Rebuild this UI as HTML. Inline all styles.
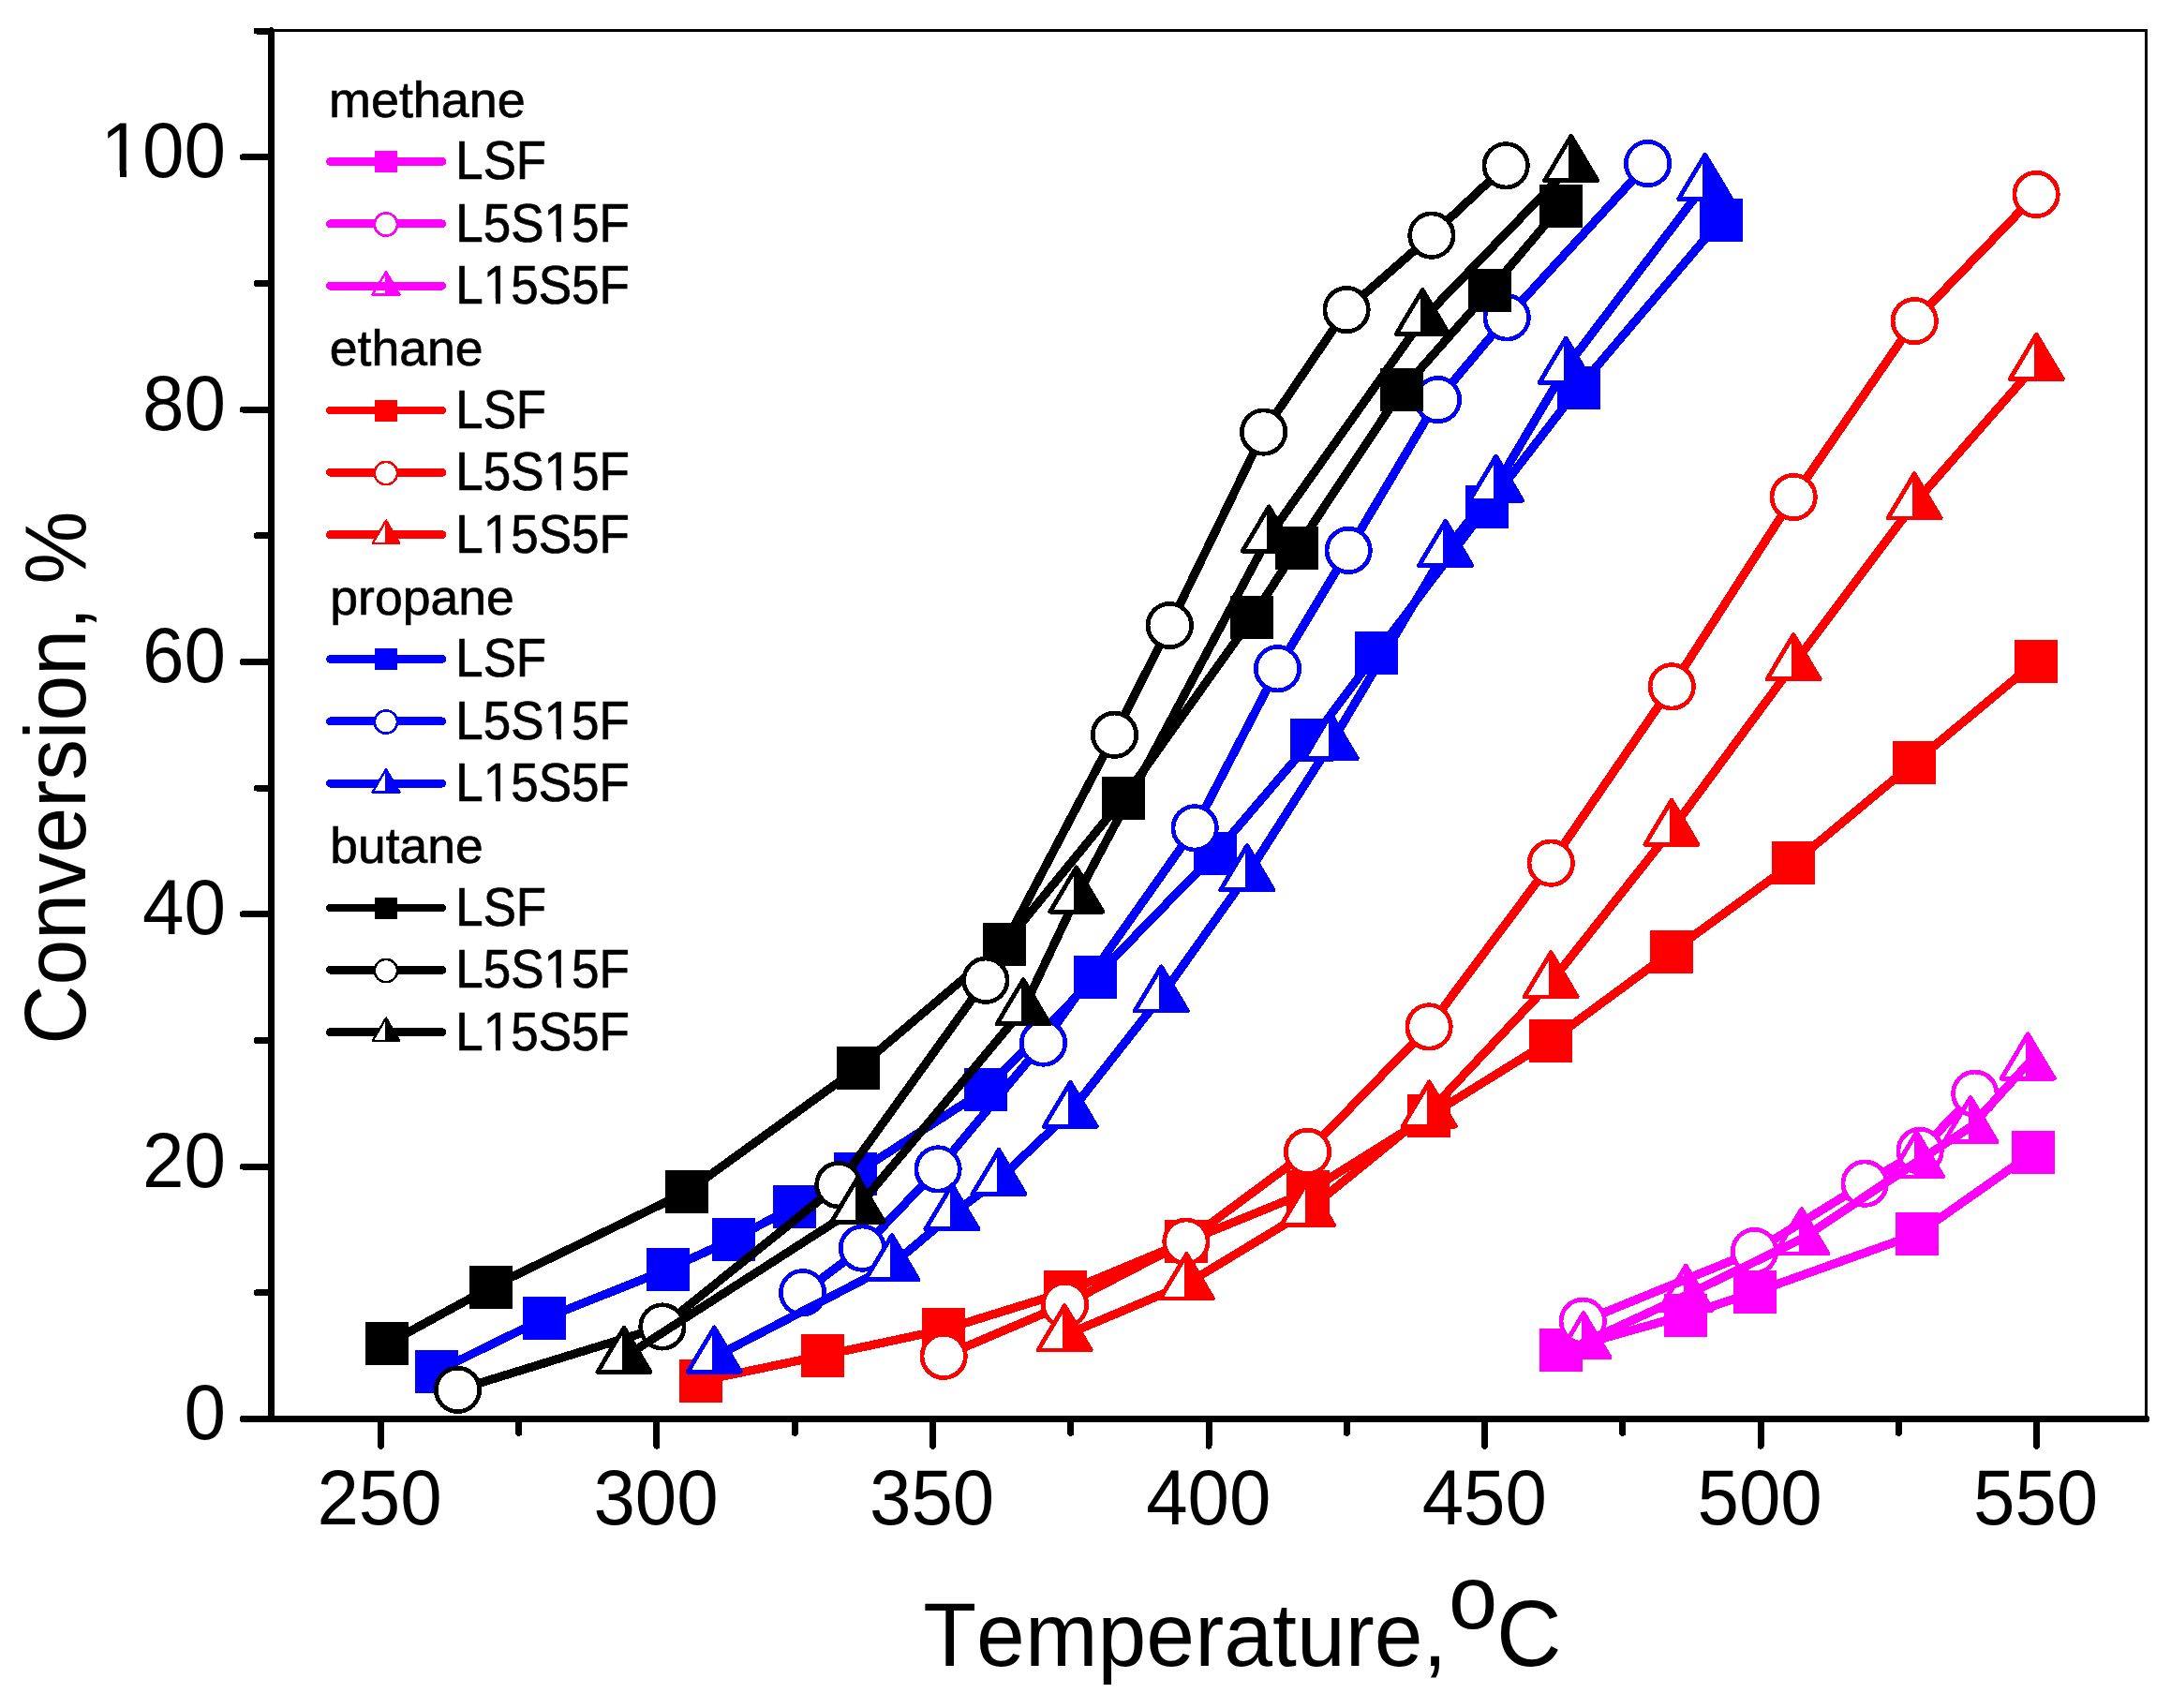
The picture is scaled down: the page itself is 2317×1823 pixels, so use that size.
<!DOCTYPE html>
<html lang="en"><head><meta charset="utf-8"><title>Conversion vs Temperature</title>
<style>html,body{margin:0;padding:0;background:#fff}svg{display:block}text{font-family:"Liberation Sans",sans-serif;fill:#000;font-kerning:none}</style></head>
<body>
<svg width="2317" height="1823" viewBox="0 0 2317 1823" shape-rendering="crispEdges">
<rect width="2317" height="1823" fill="#fff"/>
<g fill="none" stroke-linejoin="round" stroke-linecap="round">
<g><polyline points="1665.8,1441.2 1799,1403.6 1872.5,1379.3 2046.3,1317.1 2170.2,1230.1" stroke="#ff00ff" stroke-width="9.2"/><rect x="1642.8" y="1418.2" width="46" height="46" fill="#ff00ff"/><rect x="1776" y="1380.6" width="46" height="46" fill="#ff00ff"/><rect x="1849.5" y="1356.3" width="46" height="46" fill="#ff00ff"/><rect x="2023.3" y="1294.1" width="46" height="46" fill="#ff00ff"/><rect x="2147.2" y="1207.1" width="46" height="46" fill="#ff00ff"/></g>
<g><polyline points="1689.3,1410.3 1872.5,1335.6 1990.2,1263.2 2049.1,1228.4 2107.8,1167.3" stroke="#ff00ff" stroke-width="9.2"/><circle cx="1689.3" cy="1410.3" r="23.2" fill="#fff" stroke="#ff00ff" stroke-width="4.7"/><circle cx="1872.5" cy="1335.6" r="23.2" fill="#fff" stroke="#ff00ff" stroke-width="4.7"/><circle cx="1990.2" cy="1263.2" r="23.2" fill="#fff" stroke="#ff00ff" stroke-width="4.7"/><circle cx="2049.1" cy="1228.4" r="23.2" fill="#fff" stroke="#ff00ff" stroke-width="4.7"/><circle cx="2107.8" cy="1167.3" r="23.2" fill="#fff" stroke="#ff00ff" stroke-width="4.7"/></g>
<g><polyline points="1690,1433.2 1799.2,1382.7 1922.7,1322.3 2045.5,1240.3 2103,1203 2164.2,1135.5" stroke="#ff00ff" stroke-width="9.2"/><path d="M1690 1401.6L1661.9 1448.8L1718.1 1448.8Z" fill="none" stroke="#ff00ff" stroke-width="4.8" stroke-linejoin="round"/><path d="M1690 1401.6L1690 1448.8L1718.1 1448.8Z" fill="#ff00ff" stroke="#ff00ff" stroke-width="4.8" stroke-linejoin="round"/><path d="M1799.2 1351.1L1771.1 1398.3L1827.3 1398.3Z" fill="none" stroke="#ff00ff" stroke-width="4.8" stroke-linejoin="round"/><path d="M1799.2 1351.1L1799.2 1398.3L1827.3 1398.3Z" fill="#ff00ff" stroke="#ff00ff" stroke-width="4.8" stroke-linejoin="round"/><path d="M1922.7 1290.7L1894.6 1337.9L1950.8 1337.9Z" fill="none" stroke="#ff00ff" stroke-width="4.8" stroke-linejoin="round"/><path d="M1922.7 1290.7L1922.7 1337.9L1950.8 1337.9Z" fill="#ff00ff" stroke="#ff00ff" stroke-width="4.8" stroke-linejoin="round"/><path d="M2045.5 1208.7L2017.4 1255.9L2073.6 1255.9Z" fill="none" stroke="#ff00ff" stroke-width="4.8" stroke-linejoin="round"/><path d="M2045.5 1208.7L2045.5 1255.9L2073.6 1255.9Z" fill="#ff00ff" stroke="#ff00ff" stroke-width="4.8" stroke-linejoin="round"/><path d="M2103 1171.4L2074.9 1218.6L2131.1 1218.6Z" fill="none" stroke="#ff00ff" stroke-width="4.8" stroke-linejoin="round"/><path d="M2103 1171.4L2103 1218.6L2131.1 1218.6Z" fill="#ff00ff" stroke="#ff00ff" stroke-width="4.8" stroke-linejoin="round"/><path d="M2164.2 1103.9L2136.1 1151.1L2192.3 1151.1Z" fill="none" stroke="#ff00ff" stroke-width="4.8" stroke-linejoin="round"/><path d="M2164.2 1103.9L2164.2 1151.1L2192.3 1151.1Z" fill="#ff00ff" stroke="#ff00ff" stroke-width="4.8" stroke-linejoin="round"/></g>
<g><polyline points="748,1473.9 878.1,1446.8 1007.2,1419.2 1136.5,1379.1 1265.9,1325.2 1395.5,1272.2 1525.1,1191.2 1655.1,1110.5 1784.1,1015.6 1914,921.2 2043,814 2172.9,706" stroke="#ff0000" stroke-width="9.2"/><rect x="725" y="1450.9" width="46" height="46" fill="#ff0000"/><rect x="855.1" y="1423.8" width="46" height="46" fill="#ff0000"/><rect x="984.2" y="1396.2" width="46" height="46" fill="#ff0000"/><rect x="1113.5" y="1356.1" width="46" height="46" fill="#ff0000"/><rect x="1242.9" y="1302.2" width="46" height="46" fill="#ff0000"/><rect x="1372.5" y="1249.2" width="46" height="46" fill="#ff0000"/><rect x="1502.1" y="1168.2" width="46" height="46" fill="#ff0000"/><rect x="1632.1" y="1087.5" width="46" height="46" fill="#ff0000"/><rect x="1761.1" y="992.6" width="46" height="46" fill="#ff0000"/><rect x="1891" y="898.2" width="46" height="46" fill="#ff0000"/><rect x="2020" y="791" width="46" height="46" fill="#ff0000"/><rect x="2149.9" y="683" width="46" height="46" fill="#ff0000"/></g>
<g><polyline points="1007.2,1447.4 1136.5,1392.4 1265.9,1325.2 1395.5,1229.4 1525.1,1095.9 1655.3,921.2 1784.3,732.8 1914.2,530.5 2043.3,342.6 2173.1,207.5" stroke="#ff0000" stroke-width="9.2"/><circle cx="1007.2" cy="1447.4" r="23.2" fill="#fff" stroke="#ff0000" stroke-width="4.7"/><circle cx="1136.5" cy="1392.4" r="23.2" fill="#fff" stroke="#ff0000" stroke-width="4.7"/><circle cx="1265.9" cy="1325.2" r="23.2" fill="#fff" stroke="#ff0000" stroke-width="4.7"/><circle cx="1395.5" cy="1229.4" r="23.2" fill="#fff" stroke="#ff0000" stroke-width="4.7"/><circle cx="1525.1" cy="1095.9" r="23.2" fill="#fff" stroke="#ff0000" stroke-width="4.7"/><circle cx="1655.3" cy="921.2" r="23.2" fill="#fff" stroke="#ff0000" stroke-width="4.7"/><circle cx="1784.3" cy="732.8" r="23.2" fill="#fff" stroke="#ff0000" stroke-width="4.7"/><circle cx="1914.2" cy="530.5" r="23.2" fill="#fff" stroke="#ff0000" stroke-width="4.7"/><circle cx="2043.3" cy="342.6" r="23.2" fill="#fff" stroke="#ff0000" stroke-width="4.7"/><circle cx="2173.1" cy="207.5" r="23.2" fill="#fff" stroke="#ff0000" stroke-width="4.7"/></g>
<g><polyline points="1136.2,1425.3 1266.4,1370.3 1395.5,1292.1 1525.3,1186.5 1655.2,1048.3 1783.9,885.8 1914.1,709.2 2043.1,537.4 2173.3,389" stroke="#ff0000" stroke-width="9.2"/><path d="M1136.2 1393.7L1108.1 1440.9L1164.3 1440.9Z" fill="#fff" stroke="#ff0000" stroke-width="4.8" stroke-linejoin="round"/><path d="M1136.2 1393.7L1136.2 1440.9L1164.3 1440.9Z" fill="#ff0000" stroke="#ff0000" stroke-width="4.8" stroke-linejoin="round"/><path d="M1266.4 1338.7L1238.3 1385.9L1294.5 1385.9Z" fill="#fff" stroke="#ff0000" stroke-width="4.8" stroke-linejoin="round"/><path d="M1266.4 1338.7L1266.4 1385.9L1294.5 1385.9Z" fill="#ff0000" stroke="#ff0000" stroke-width="4.8" stroke-linejoin="round"/><path d="M1395.5 1260.5L1367.4 1307.7L1423.6 1307.7Z" fill="#fff" stroke="#ff0000" stroke-width="4.8" stroke-linejoin="round"/><path d="M1395.5 1260.5L1395.5 1307.7L1423.6 1307.7Z" fill="#ff0000" stroke="#ff0000" stroke-width="4.8" stroke-linejoin="round"/><path d="M1525.3 1154.9L1497.2 1202.1L1553.4 1202.1Z" fill="#fff" stroke="#ff0000" stroke-width="4.8" stroke-linejoin="round"/><path d="M1525.3 1154.9L1525.3 1202.1L1553.4 1202.1Z" fill="#ff0000" stroke="#ff0000" stroke-width="4.8" stroke-linejoin="round"/><path d="M1655.2 1016.7L1627.1 1063.9L1683.3 1063.9Z" fill="#fff" stroke="#ff0000" stroke-width="4.8" stroke-linejoin="round"/><path d="M1655.2 1016.7L1655.2 1063.9L1683.3 1063.9Z" fill="#ff0000" stroke="#ff0000" stroke-width="4.8" stroke-linejoin="round"/><path d="M1783.9 854.2L1755.8 901.4L1812 901.4Z" fill="#fff" stroke="#ff0000" stroke-width="4.8" stroke-linejoin="round"/><path d="M1783.9 854.2L1783.9 901.4L1812 901.4Z" fill="#ff0000" stroke="#ff0000" stroke-width="4.8" stroke-linejoin="round"/><path d="M1914.1 677.6L1886 724.8L1942.2 724.8Z" fill="#fff" stroke="#ff0000" stroke-width="4.8" stroke-linejoin="round"/><path d="M1914.1 677.6L1914.1 724.8L1942.2 724.8Z" fill="#ff0000" stroke="#ff0000" stroke-width="4.8" stroke-linejoin="round"/><path d="M2043.1 505.8L2015 553L2071.2 553Z" fill="#fff" stroke="#ff0000" stroke-width="4.8" stroke-linejoin="round"/><path d="M2043.1 505.8L2043.1 553L2071.2 553Z" fill="#ff0000" stroke="#ff0000" stroke-width="4.8" stroke-linejoin="round"/><path d="M2173.3 357.4L2145.2 404.6L2201.4 404.6Z" fill="#fff" stroke="#ff0000" stroke-width="4.8" stroke-linejoin="round"/><path d="M2173.3 357.4L2173.3 404.6L2201.4 404.6Z" fill="#ff0000" stroke="#ff0000" stroke-width="4.8" stroke-linejoin="round"/></g>
<g><polyline points="465.5,1463.9 580.9,1407.3 712.9,1354.7 782.8,1322.5 847.9,1288 912.7,1252.8 1052,1163 1169.1,1042.7 1297.3,910.6 1400.2,789.8 1469,697.3 1587,541 1684.9,413.8 1836.9,234.6" stroke="#0000ff" stroke-width="9.2"/><rect x="442.5" y="1440.9" width="46" height="46" fill="#0000ff"/><rect x="557.9" y="1384.3" width="46" height="46" fill="#0000ff"/><rect x="689.9" y="1331.7" width="46" height="46" fill="#0000ff"/><rect x="759.8" y="1299.5" width="46" height="46" fill="#0000ff"/><rect x="824.9" y="1265" width="46" height="46" fill="#0000ff"/><rect x="889.7" y="1229.8" width="46" height="46" fill="#0000ff"/><rect x="1029" y="1140" width="46" height="46" fill="#0000ff"/><rect x="1146.1" y="1019.7" width="46" height="46" fill="#0000ff"/><rect x="1274.3" y="887.6" width="46" height="46" fill="#0000ff"/><rect x="1377.2" y="766.8" width="46" height="46" fill="#0000ff"/><rect x="1446" y="674.3" width="46" height="46" fill="#0000ff"/><rect x="1564" y="518" width="46" height="46" fill="#0000ff"/><rect x="1661.9" y="390.8" width="46" height="46" fill="#0000ff"/><rect x="1813.9" y="211.6" width="46" height="46" fill="#0000ff"/></g>
<g><polyline points="856.6,1379.7 920.4,1332.2 1001.1,1247.9 1113.5,1113.1 1275.2,883.8 1363.5,713.7 1439.2,587.4 1534.5,426.6 1608.2,338.9 1758.6,174.6" stroke="#0000ff" stroke-width="9.2"/><circle cx="856.6" cy="1379.7" r="23.2" fill="#fff" stroke="#0000ff" stroke-width="4.7"/><circle cx="920.4" cy="1332.2" r="23.2" fill="#fff" stroke="#0000ff" stroke-width="4.7"/><circle cx="1001.1" cy="1247.9" r="23.2" fill="#fff" stroke="#0000ff" stroke-width="4.7"/><circle cx="1113.5" cy="1113.1" r="23.2" fill="#fff" stroke="#0000ff" stroke-width="4.7"/><circle cx="1275.2" cy="883.8" r="23.2" fill="#fff" stroke="#0000ff" stroke-width="4.7"/><circle cx="1363.5" cy="713.7" r="23.2" fill="#fff" stroke="#0000ff" stroke-width="4.7"/><circle cx="1439.2" cy="587.4" r="23.2" fill="#fff" stroke="#0000ff" stroke-width="4.7"/><circle cx="1534.5" cy="426.6" r="23.2" fill="#fff" stroke="#0000ff" stroke-width="4.7"/><circle cx="1608.2" cy="338.9" r="23.2" fill="#fff" stroke="#0000ff" stroke-width="4.7"/><circle cx="1758.6" cy="174.6" r="23.2" fill="#fff" stroke="#0000ff" stroke-width="4.7"/></g>
<g><polyline points="762.3,1448.5 951.9,1350.1 1016,1296.2 1066,1258.9 1142.3,1186.8 1239.3,1063.4 1330.9,934.1 1420.3,793.9 1542.7,587.8 1596.6,518.6 1671.2,392.7 1819.7,196.8" stroke="#0000ff" stroke-width="9.2"/><path d="M762.3 1416.9L734.2 1464.1L790.4 1464.1Z" fill="#fff" stroke="#0000ff" stroke-width="4.8" stroke-linejoin="round"/><path d="M762.3 1416.9L762.3 1464.1L790.4 1464.1Z" fill="#0000ff" stroke="#0000ff" stroke-width="4.8" stroke-linejoin="round"/><path d="M951.9 1318.5L923.8 1365.7L980 1365.7Z" fill="#fff" stroke="#0000ff" stroke-width="4.8" stroke-linejoin="round"/><path d="M951.9 1318.5L951.9 1365.7L980 1365.7Z" fill="#0000ff" stroke="#0000ff" stroke-width="4.8" stroke-linejoin="round"/><path d="M1016 1264.6L987.9 1311.8L1044.1 1311.8Z" fill="#fff" stroke="#0000ff" stroke-width="4.8" stroke-linejoin="round"/><path d="M1016 1264.6L1016 1311.8L1044.1 1311.8Z" fill="#0000ff" stroke="#0000ff" stroke-width="4.8" stroke-linejoin="round"/><path d="M1066 1227.3L1037.9 1274.5L1094.1 1274.5Z" fill="#fff" stroke="#0000ff" stroke-width="4.8" stroke-linejoin="round"/><path d="M1066 1227.3L1066 1274.5L1094.1 1274.5Z" fill="#0000ff" stroke="#0000ff" stroke-width="4.8" stroke-linejoin="round"/><path d="M1142.3 1155.2L1114.2 1202.4L1170.4 1202.4Z" fill="#fff" stroke="#0000ff" stroke-width="4.8" stroke-linejoin="round"/><path d="M1142.3 1155.2L1142.3 1202.4L1170.4 1202.4Z" fill="#0000ff" stroke="#0000ff" stroke-width="4.8" stroke-linejoin="round"/><path d="M1239.3 1031.8L1211.2 1079L1267.4 1079Z" fill="#fff" stroke="#0000ff" stroke-width="4.8" stroke-linejoin="round"/><path d="M1239.3 1031.8L1239.3 1079L1267.4 1079Z" fill="#0000ff" stroke="#0000ff" stroke-width="4.8" stroke-linejoin="round"/><path d="M1330.9 902.5L1302.8 949.7L1359 949.7Z" fill="#fff" stroke="#0000ff" stroke-width="4.8" stroke-linejoin="round"/><path d="M1330.9 902.5L1330.9 949.7L1359 949.7Z" fill="#0000ff" stroke="#0000ff" stroke-width="4.8" stroke-linejoin="round"/><path d="M1420.3 762.3L1392.2 809.5L1448.4 809.5Z" fill="#fff" stroke="#0000ff" stroke-width="4.8" stroke-linejoin="round"/><path d="M1420.3 762.3L1420.3 809.5L1448.4 809.5Z" fill="#0000ff" stroke="#0000ff" stroke-width="4.8" stroke-linejoin="round"/><path d="M1542.7 556.2L1514.6 603.4L1570.8 603.4Z" fill="#fff" stroke="#0000ff" stroke-width="4.8" stroke-linejoin="round"/><path d="M1542.7 556.2L1542.7 603.4L1570.8 603.4Z" fill="#0000ff" stroke="#0000ff" stroke-width="4.8" stroke-linejoin="round"/><path d="M1596.6 487L1568.5 534.2L1624.7 534.2Z" fill="#fff" stroke="#0000ff" stroke-width="4.8" stroke-linejoin="round"/><path d="M1596.6 487L1596.6 534.2L1624.7 534.2Z" fill="#0000ff" stroke="#0000ff" stroke-width="4.8" stroke-linejoin="round"/><path d="M1671.2 361.1L1643.1 408.3L1699.3 408.3Z" fill="#fff" stroke="#0000ff" stroke-width="4.8" stroke-linejoin="round"/><path d="M1671.2 361.1L1671.2 408.3L1699.3 408.3Z" fill="#0000ff" stroke="#0000ff" stroke-width="4.8" stroke-linejoin="round"/><path d="M1819.7 165.2L1791.6 212.4L1847.8 212.4Z" fill="#fff" stroke="#0000ff" stroke-width="4.8" stroke-linejoin="round"/><path d="M1819.7 165.2L1819.7 212.4L1847.8 212.4Z" fill="#0000ff" stroke="#0000ff" stroke-width="4.8" stroke-linejoin="round"/></g>
<g><polyline points="413,1434.4 523.8,1373.9 732.9,1272.1 916,1139.8 1072.1,1007.6 1199.2,852 1336.4,659.3 1384,585.2 1496,416.4 1590,310 1666,219.7" stroke="#000000" stroke-width="9.2"/><rect x="390" y="1411.4" width="46" height="46" fill="#000000"/><rect x="500.8" y="1350.9" width="46" height="46" fill="#000000"/><rect x="709.9" y="1249.1" width="46" height="46" fill="#000000"/><rect x="893" y="1116.8" width="46" height="46" fill="#000000"/><rect x="1049.1" y="984.6" width="46" height="46" fill="#000000"/><rect x="1176.2" y="829" width="46" height="46" fill="#000000"/><rect x="1313.4" y="636.3" width="46" height="46" fill="#000000"/><rect x="1361" y="562.2" width="46" height="46" fill="#000000"/><rect x="1473" y="393.4" width="46" height="46" fill="#000000"/><rect x="1567" y="287" width="46" height="46" fill="#000000"/><rect x="1643" y="196.7" width="46" height="46" fill="#000000"/></g>
<g><polyline points="488.5,1483.4 706.9,1416 894.8,1264.7 1051.9,1046.3 1189.5,784.3 1248.3,667.6 1348.6,461.1 1437.1,330.6 1527.9,251.2 1607.2,176.8" stroke="#000000" stroke-width="9.2"/><circle cx="488.5" cy="1483.4" r="23.2" fill="#fff" stroke="#000000" stroke-width="4.7"/><circle cx="706.9" cy="1416" r="23.2" fill="#fff" stroke="#000000" stroke-width="4.7"/><circle cx="894.8" cy="1264.7" r="23.2" fill="#fff" stroke="#000000" stroke-width="4.7"/><circle cx="1051.9" cy="1046.3" r="23.2" fill="#fff" stroke="#000000" stroke-width="4.7"/><circle cx="1189.5" cy="784.3" r="23.2" fill="#fff" stroke="#000000" stroke-width="4.7"/><circle cx="1248.3" cy="667.6" r="23.2" fill="#fff" stroke="#000000" stroke-width="4.7"/><circle cx="1348.6" cy="461.1" r="23.2" fill="#fff" stroke="#000000" stroke-width="4.7"/><circle cx="1437.1" cy="330.6" r="23.2" fill="#fff" stroke="#000000" stroke-width="4.7"/><circle cx="1527.9" cy="251.2" r="23.2" fill="#fff" stroke="#000000" stroke-width="4.7"/><circle cx="1607.2" cy="176.8" r="23.2" fill="#fff" stroke="#000000" stroke-width="4.7"/></g>
<g><polyline points="666,1448.7 915.5,1288.6 1092.1,1077.2 1148.8,957.5 1354.2,572.5 1518.2,341 1676.7,176.9" stroke="#000000" stroke-width="9.2"/><path d="M666 1417.1L637.9 1464.3L694.1 1464.3Z" fill="#fff" stroke="#000000" stroke-width="4.8" stroke-linejoin="round"/><path d="M666 1417.1L666 1464.3L694.1 1464.3Z" fill="#000000" stroke="#000000" stroke-width="4.8" stroke-linejoin="round"/><path d="M915.5 1257L887.4 1304.2L943.6 1304.2Z" fill="#fff" stroke="#000000" stroke-width="4.8" stroke-linejoin="round"/><path d="M915.5 1257L915.5 1304.2L943.6 1304.2Z" fill="#000000" stroke="#000000" stroke-width="4.8" stroke-linejoin="round"/><path d="M1092.1 1045.6L1064 1092.8L1120.2 1092.8Z" fill="#fff" stroke="#000000" stroke-width="4.8" stroke-linejoin="round"/><path d="M1092.1 1045.6L1092.1 1092.8L1120.2 1092.8Z" fill="#000000" stroke="#000000" stroke-width="4.8" stroke-linejoin="round"/><path d="M1148.8 925.9L1120.7 973.1L1176.9 973.1Z" fill="#fff" stroke="#000000" stroke-width="4.8" stroke-linejoin="round"/><path d="M1148.8 925.9L1148.8 973.1L1176.9 973.1Z" fill="#000000" stroke="#000000" stroke-width="4.8" stroke-linejoin="round"/><path d="M1354.2 540.9L1326.1 588.1L1382.3 588.1Z" fill="#fff" stroke="#000000" stroke-width="4.8" stroke-linejoin="round"/><path d="M1354.2 540.9L1354.2 588.1L1382.3 588.1Z" fill="#000000" stroke="#000000" stroke-width="4.8" stroke-linejoin="round"/><path d="M1518.2 309.4L1490.1 356.6L1546.3 356.6Z" fill="#fff" stroke="#000000" stroke-width="4.8" stroke-linejoin="round"/><path d="M1518.2 309.4L1518.2 356.6L1546.3 356.6Z" fill="#000000" stroke="#000000" stroke-width="4.8" stroke-linejoin="round"/><path d="M1676.7 145.3L1648.6 192.5L1704.8 192.5Z" fill="#fff" stroke="#000000" stroke-width="4.8" stroke-linejoin="round"/><path d="M1676.7 145.3L1676.7 192.5L1704.8 192.5Z" fill="#000000" stroke="#000000" stroke-width="4.8" stroke-linejoin="round"/></g>
</g>
<g stroke="#000" fill="none" stroke-linecap="round">
<path d="M289.5 32.6H2290.7V1514.5" stroke-width="3.2" stroke-linecap="butt" stroke-linejoin="miter"/>
<path d="M289.5 32.6V1514.5H2290.7" stroke-width="7" stroke-linejoin="miter"/>
<path d="M259.2 1514.5H289.5M274.2 1379.8H289.5M259.2 1245.1H289.5M274.2 1110.5H289.5M259.2 975.8H289.5M274.2 841.1H289.5M259.2 706.4H289.5M274.2 571.7H289.5M259.2 437.1H289.5M274.2 302.4H289.5M259.2 167.7H289.5M274.2 33H289.5M406.4 1514.5V1543.2M553.7 1514.5V1529.3M700.9 1514.5V1543.2M848.2 1514.5V1529.3M995.5 1514.5V1543.2M1142.7 1514.5V1529.3M1290 1514.5V1543.2M1437.3 1514.5V1529.3M1584.5 1514.5V1543.2M1731.8 1514.5V1529.3M1879.1 1514.5V1543.2M2026.3 1514.5V1529.3M2173.6 1514.5V1543.2" stroke-width="7"/>
</g>
<g>
<g transform="translate(196.43 1536.10) scale(1.0000 1.0400)"><text font-size="80">0</text></g>
<g transform="translate(151.94 1266.74) scale(1.0000 1.0400)"><text font-size="80">20</text></g>
<g transform="translate(151.94 997.38) scale(1.0000 1.0400)"><text font-size="80">40</text></g>
<g transform="translate(151.94 728.02) scale(1.0000 1.0400)"><text font-size="80">60</text></g>
<g transform="translate(151.94 458.66) scale(1.0000 1.0400)"><text font-size="80">80</text></g>
<g transform="translate(107.45 189.30) scale(1.0000 1.0400)"><text font-size="80">100</text><path d="M4.90 -7.18H20.12V1.2H4.90ZM27.18 -7.18H41.78V1.2H27.18Z" fill="#fff"/></g>
<g transform="translate(338.45 1626.80) scale(0.9980 1.0400)"><text font-size="80">250</text></g>
<g transform="translate(633.47 1626.80) scale(0.9980 1.0400)"><text font-size="80">300</text></g>
<g transform="translate(928.00 1626.80) scale(0.9980 1.0400)"><text font-size="80">350</text></g>
<g transform="translate(1223.14 1626.80) scale(0.9980 1.0400)"><text font-size="80">400</text></g>
<g transform="translate(1517.68 1626.80) scale(0.9980 1.0400)"><text font-size="80">450</text></g>
<g transform="translate(1811.53 1626.80) scale(0.9980 1.0400)"><text font-size="80">500</text></g>
<g transform="translate(2106.07 1626.80) scale(0.9980 1.0400)"><text font-size="80">550</text></g>
</g>
<g transform="translate(91.20 1114.64) rotate(-90) scale(0.9942 1.0500)"><text font-size="88">Conversion, %</text></g>
<g transform="translate(985.21 1778.20) scale(0.9705 1.0100)"><text font-size="96">Temperature,</text></g>
<g transform="translate(1545.96 1738.30) scale(0.9773 1.0000)"><text font-size="96">o</text></g>
<g transform="translate(1597.11 1778.20) scale(1.0033 1.0370)"><text font-size="96">C</text></g>
<g font-size="54.3">
<g transform="translate(351.12 124.90) scale(0.9917 1.0000)"><text font-size="54.3" stroke="#000" stroke-width="0.7">methane</text></g>
<line x1="352.5" y1="172.4" x2="471.8" y2="172.4" stroke="#ff00ff" stroke-width="8.8" stroke-linecap="round"/><rect x="400" y="161" width="24.1" height="23.4" fill="#ff00ff"/><g transform="translate(486.37 191.28) scale(0.9714 1.0400)"><text font-size="54.3" stroke="#000" stroke-width="0.7">LSF</text></g>
<line x1="352.5" y1="238.8" x2="471.8" y2="238.8" stroke="#ff00ff" stroke-width="8.8" stroke-linecap="round"/><circle cx="411.9" cy="239.6" r="12.1" fill="#fff" stroke="#ff00ff" stroke-width="2.6"/><g transform="translate(486.35 257.66) scale(0.9757 1.0400)"><text font-size="54.3" stroke="#000" stroke-width="0.7">L5S15F</text><path d="M99.55 -5.26H109.92V1.2H99.55ZM115.42 -5.26H125.36V1.2H115.42Z" fill="#fff"/></g>
<line x1="352.5" y1="305.1" x2="471.8" y2="305.1" stroke="#ff00ff" stroke-width="8.8" stroke-linecap="round"/><path d="M412 290L397.6 314.4L426.4 314.4Z" fill="none" stroke="#ff00ff" stroke-width="2.4" stroke-linejoin="round"/><path d="M412 290L412 314.4L426.4 314.4Z" fill="#ff00ff" stroke="#ff00ff" stroke-width="2.4" stroke-linejoin="round"/><g transform="translate(486.35 324.04) scale(0.9757 1.0400)"><text font-size="54.3" stroke="#000" stroke-width="0.7">L15S5F</text><path d="M33.14 -5.26H43.51V1.2H33.14ZM49.00 -5.26H58.95V1.2H49.00Z" fill="#fff"/></g>
<g transform="translate(351.82 390.42) scale(0.9866 1.0000)"><text font-size="54.3" stroke="#000" stroke-width="0.7">ethane</text></g>
<line x1="352.5" y1="437.9" x2="471.8" y2="437.9" stroke="#ff0000" stroke-width="8.8" stroke-linecap="round"/><rect x="400" y="426.5" width="24.1" height="23.4" fill="#ff0000"/><g transform="translate(486.37 456.80) scale(0.9714 1.0400)"><text font-size="54.3" stroke="#000" stroke-width="0.7">LSF</text></g>
<line x1="352.5" y1="504.3" x2="471.8" y2="504.3" stroke="#ff0000" stroke-width="8.8" stroke-linecap="round"/><circle cx="411.9" cy="505.1" r="12.1" fill="#fff" stroke="#ff0000" stroke-width="2.6"/><g transform="translate(486.35 523.18) scale(0.9757 1.0400)"><text font-size="54.3" stroke="#000" stroke-width="0.7">L5S15F</text><path d="M99.55 -5.26H109.92V1.2H99.55ZM115.42 -5.26H125.36V1.2H115.42Z" fill="#fff"/></g>
<line x1="352.5" y1="570.7" x2="471.8" y2="570.7" stroke="#ff0000" stroke-width="8.8" stroke-linecap="round"/><path d="M412 555.6L397.6 580L426.4 580Z" fill="#fff" stroke="#ff0000" stroke-width="2.4" stroke-linejoin="round"/><path d="M412 555.6L412 580L426.4 580Z" fill="#ff0000" stroke="#ff0000" stroke-width="2.4" stroke-linejoin="round"/><g transform="translate(486.35 589.56) scale(0.9757 1.0400)"><text font-size="54.3" stroke="#000" stroke-width="0.7">L15S5F</text><path d="M33.14 -5.26H43.51V1.2H33.14ZM49.00 -5.26H58.95V1.2H49.00Z" fill="#fff"/></g>
<g transform="translate(352.35 655.94) scale(0.9857 1.0000)"><text font-size="54.3" stroke="#000" stroke-width="0.7">propane</text></g>
<line x1="352.5" y1="703.4" x2="471.8" y2="703.4" stroke="#0000ff" stroke-width="8.8" stroke-linecap="round"/><rect x="400" y="692" width="24.1" height="23.4" fill="#0000ff"/><g transform="translate(486.37 722.32) scale(0.9714 1.0400)"><text font-size="54.3" stroke="#000" stroke-width="0.7">LSF</text></g>
<line x1="352.5" y1="769.8" x2="471.8" y2="769.8" stroke="#0000ff" stroke-width="8.8" stroke-linecap="round"/><circle cx="411.9" cy="770.6" r="12.1" fill="#fff" stroke="#0000ff" stroke-width="2.6"/><g transform="translate(486.35 788.70) scale(0.9757 1.0400)"><text font-size="54.3" stroke="#000" stroke-width="0.7">L5S15F</text><path d="M99.55 -5.26H109.92V1.2H99.55ZM115.42 -5.26H125.36V1.2H115.42Z" fill="#fff"/></g>
<line x1="352.5" y1="836.2" x2="471.8" y2="836.2" stroke="#0000ff" stroke-width="8.8" stroke-linecap="round"/><path d="M412 821.1L397.6 845.5L426.4 845.5Z" fill="#fff" stroke="#0000ff" stroke-width="2.4" stroke-linejoin="round"/><path d="M412 821.1L412 845.5L426.4 845.5Z" fill="#0000ff" stroke="#0000ff" stroke-width="2.4" stroke-linejoin="round"/><g transform="translate(486.35 855.08) scale(0.9757 1.0400)"><text font-size="54.3" stroke="#000" stroke-width="0.7">L15S5F</text><path d="M33.14 -5.26H43.51V1.2H33.14ZM49.00 -5.26H58.95V1.2H49.00Z" fill="#fff"/></g>
<g transform="translate(352.36 921.46) scale(0.9833 1.0000)"><text font-size="54.3" stroke="#000" stroke-width="0.7">butane</text></g>
<line x1="352.5" y1="968.9" x2="471.8" y2="968.9" stroke="#000000" stroke-width="8.8" stroke-linecap="round"/><rect x="400" y="957.5" width="24.1" height="23.4" fill="#000000"/><g transform="translate(486.37 987.84) scale(0.9714 1.0400)"><text font-size="54.3" stroke="#000" stroke-width="0.7">LSF</text></g>
<line x1="352.5" y1="1035.3" x2="471.8" y2="1035.3" stroke="#000000" stroke-width="8.8" stroke-linecap="round"/><circle cx="411.9" cy="1036.1" r="12.1" fill="#fff" stroke="#000000" stroke-width="2.6"/><g transform="translate(486.35 1054.22) scale(0.9757 1.0400)"><text font-size="54.3" stroke="#000" stroke-width="0.7">L5S15F</text><path d="M99.55 -5.26H109.92V1.2H99.55ZM115.42 -5.26H125.36V1.2H115.42Z" fill="#fff"/></g>
<line x1="352.5" y1="1101.7" x2="471.8" y2="1101.7" stroke="#000000" stroke-width="8.8" stroke-linecap="round"/><path d="M412 1086.6L397.6 1111L426.4 1111Z" fill="#fff" stroke="#000000" stroke-width="2.4" stroke-linejoin="round"/><path d="M412 1086.6L412 1111L426.4 1111Z" fill="#000000" stroke="#000000" stroke-width="2.4" stroke-linejoin="round"/><g transform="translate(486.35 1120.60) scale(0.9757 1.0400)"><text font-size="54.3" stroke="#000" stroke-width="0.7">L15S5F</text><path d="M33.14 -5.26H43.51V1.2H33.14ZM49.00 -5.26H58.95V1.2H49.00Z" fill="#fff"/></g>
</g>
</svg>
</body></html>
